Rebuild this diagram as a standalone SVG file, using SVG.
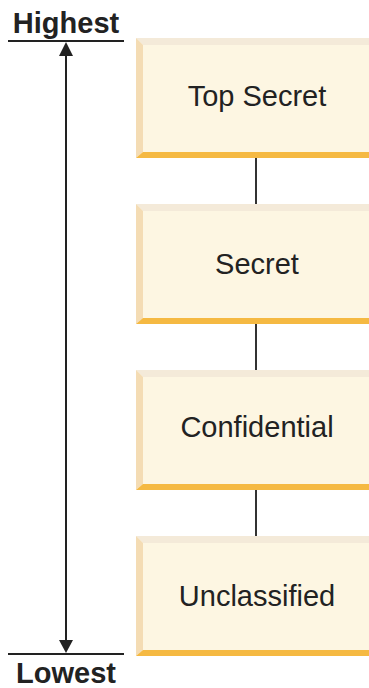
<svg xmlns="http://www.w3.org/2000/svg" width="369" height="688" viewBox="0 0 369 688">
<defs>
<style>
.face{fill:#fdf6e2}
.top{fill:#f4ead9}
.left{fill:#f4dcb4}
.bot{fill:#f5b942}
.lbl{font-family:"Liberation Sans",Arial,sans-serif;font-size:29px;fill:#222;text-anchor:middle}
.end{font-family:"Liberation Sans",Arial,sans-serif;font-size:29px;font-weight:bold;fill:#222;text-anchor:middle}
.conn{stroke:#333;stroke-width:2;fill:none}
</style>
<g id="boxshape">
<rect class="face" x="136" y="0" width="240" height="120"/>
<polygon class="top" points="136,0 376,0 376,7 143,7"/>
<polygon class="left" points="136,0 143,7 143,114 136,120"/>
<polygon class="bot" points="136,120 143,114 376,114 376,120"/>
</g>
</defs>
<rect width="369" height="688" fill="#fff"/>
<g id="scale">
<text class="end" x="66" y="33">Highest</text>
<line x1="8" y1="41" x2="124" y2="41" stroke="#222" stroke-width="2"/>
<line x1="66" y1="54" x2="66" y2="642" stroke="#222" stroke-width="2"/>
<polygon points="66,42 59,56 73,56" fill="#222"/>
<polygon points="66,653 59,640 73,640" fill="#222"/>
<line x1="8" y1="654" x2="124" y2="654" stroke="#222" stroke-width="2"/>
<text class="end" x="66" y="683">Lowest</text>
</g>
<g id="connectors">
<line class="conn" x1="256" y1="158" x2="256" y2="204"/>
<line class="conn" x1="256" y1="324" x2="256" y2="370"/>
<line class="conn" x1="256" y1="490" x2="256" y2="536"/>
</g>
<g id="top-secret">
<use href="#boxshape" y="38"/>
<text class="lbl" x="257" y="106">Top Secret</text>
</g>
<g id="secret">
<use href="#boxshape" y="204"/>
<text class="lbl" x="257" y="274">Secret</text>
</g>
<g id="confidential">
<use href="#boxshape" y="370"/>
<text class="lbl" x="257" y="437">Confidential</text>
</g>
<g id="unclassified">
<use href="#boxshape" y="536"/>
<text class="lbl" x="257" y="606">Unclassified</text>
</g>
</svg>
